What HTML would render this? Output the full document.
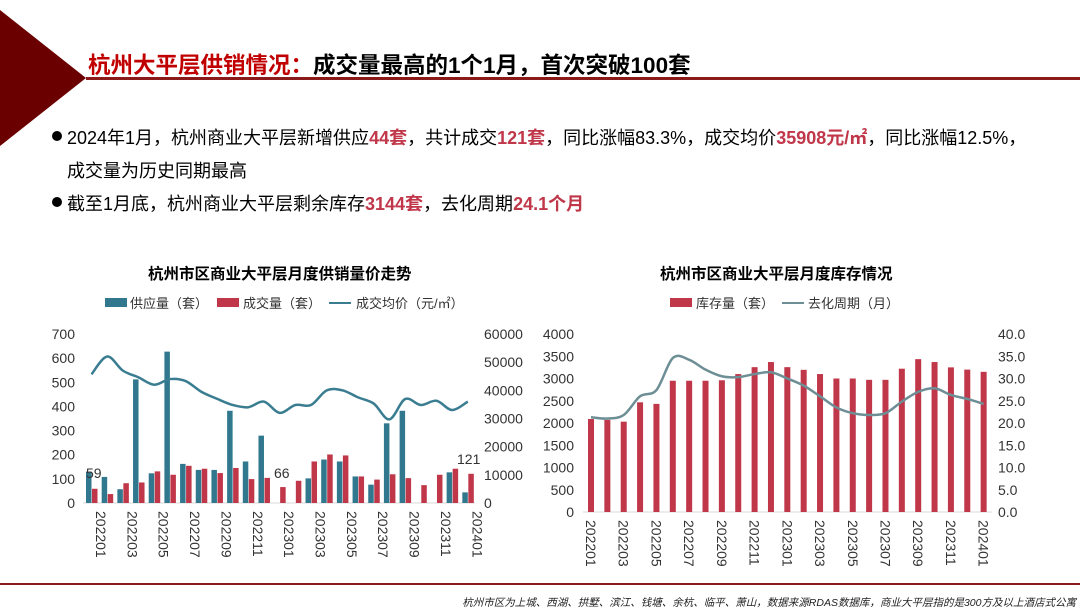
<!DOCTYPE html>
<html><head><meta charset="utf-8"><style>
body{margin:0;width:1080px;height:607px;overflow:hidden;background:#fff;font-family:"Liberation Sans","Noto Sans CJK SC",sans-serif;position:relative}
.abs{position:absolute;white-space:nowrap}
.r{color:#C0374A;font-weight:bold}
</style></head><body>
<svg class="abs" style="left:0;top:0" width="1080" height="607">
<polygon points="0,10 86,78 0,146" fill="#6B0000"/>
<rect x="86" y="77" width="994" height="3" fill="#8B1A1A"/>
<rect x="0" y="583" width="1080" height="2" fill="#8B1A1A"/>
<circle cx="57" cy="136" r="5" fill="#000"/>
<circle cx="57" cy="202" r="5" fill="#000"/>
</svg>
<div class="abs" style="left:88px;top:48px;font-size:22.5px;font-weight:bold"><span style="color:#C00000">杭州大平层供销情况：</span>成交量最高的1个1月，首次突破100套</div>
<div class="abs" style="left:67px;top:124px;font-size:18px">2024年1月，杭州商业大平层新增供应<span class="r">44套</span>，共计成交<span class="r">121套</span>，同比涨幅83.3%，成交均价<span class="r">35908元/㎡</span>，同比涨幅12.5%，</div>
<div class="abs" style="left:67px;top:157px;font-size:18px">成交量为历史同期最高</div>
<div class="abs" style="left:67px;top:190px;font-size:18px">截至1月底，杭州商业大平层剩余库存<span class="r">3144套</span>，去化周期<span class="r">24.1个月</span></div>
<div class="abs" style="left:148px;top:262px;font-size:15.5px;font-weight:bold">杭州市区商业大平层月度供销量价走势</div>
<div class="abs" style="left:660px;top:262px;font-size:15.5px;font-weight:bold">杭州市区商业大平层月度库存情况</div>
<div class="abs" style="left:0;top:595px;width:1076px;text-align:right;font-size:10.5px;font-style:italic;color:#222">杭州市区为上城、西湖、拱墅、滨江、钱塘、余杭、临平、萧山，数据来源RDAS数据库，商业大平层指的是300方及以上酒店式公寓</div>
<svg id="c" class="abs" style="left:0;top:0" width="1080" height="607" font-family="Liberation Sans, Noto Sans CJK SC, sans-serif"></svg>
<script>
const sup=[130,108,57,512,123,627,162,137,137,382,172,279,0,0,102,180,172,110,76,330,382,0,0,127,44];
const sal=[59,37,82,85,131,117,154,142,124,145,99,104,66,92,172,201,197,110,97,119,103,74,117,142,121];
const pr=[45.7,52,47,44.6,42,44,43.3,39.5,37,34.8,34,36,32,34.8,34.8,40,40,37.5,35.3,29.7,36.9,34.8,36.3,33,36];
const inv=[2090,2070,2030,2465,2430,2950,2950,2950,2960,3100,3255,3370,3255,3195,3100,3000,3000,2970,2970,3220,3435,3370,3250,3200,3150];
const cyc=[21.3,21,21.8,26,27.4,34.6,34.2,32,30.5,30.3,31,31.4,30,28.4,26,23.5,22.2,21.8,22.2,24.8,27,27.8,26.3,25.4,24.3];
const labs=['202201','202203','202205','202207','202209','202211','202301','202303','202305','202307','202309','202311','202401'];
let s='';
function smooth(p){let d='M'+p[0][0]+','+p[0][1];for(let i=0;i<p.length-1;i++){const a=p[i-1]||p[i],b=p[i],c=p[i+1],e=p[i+2]||c;d+=' C'+(b[0]+(c[0]-a[0])/6)+','+(b[1]+(c[1]-a[1])/6)+' '+(c[0]-(e[0]-b[0])/6)+','+(c[1]-(e[1]-b[1])/6)+' '+c[0]+','+c[1];}return d;}
{const x0=83,x1=475,y0=503,H=169,g=(x1-x0)/25;
s+=`<line x1="${x0}" y1="${y0}" x2="${x1}" y2="${y0}" stroke="#d9d9d9"/>`;
for(let i=0;i<=7;i++){const y=y0-H*i/7;s+=`<text x="75" y="${y+5}" font-size="14" text-anchor="end" fill="#333">${i*100}</text>`;}
for(let i=0;i<=6;i++){const y=y0-H*i/6;s+=`<text x="484" y="${y+5}" font-size="14" fill="#333">${i*10000}</text>`;}
const pts=[];
for(let i=0;i<25;i++){const bx=x0+3+i*g;
if(sup[i])s+=`<rect x="${bx}" y="${y0-sup[i]*H/700}" width="5.5" height="${sup[i]*H/700}" fill="#31788F"/>`;
s+=`<rect x="${bx+6}" y="${y0-sal[i]*H/700}" width="5.5" height="${sal[i]*H/700}" fill="#C0374A"/>`;
pts.push([bx+5.5,y0-pr[i]*H/60]);}
s+=`<path d="${smooth(pts)}" fill="none" stroke="#3A7D91" stroke-width="2.5"/>`;
s+=`<text x="86" y="478" font-size="14" fill="#333">59</text><text x="274" y="478" font-size="14" fill="#333">66</text><text x="457" y="464" font-size="14" fill="#333">121</text>`;
labs.forEach((l,k)=>{const x=x0+3+k*2*g+5;s+=`<text transform="translate(${x+5},${y0+8}) rotate(90)" font-size="14" fill="#333">${l}</text>`;});
s+=`<rect x="105" y="298" width="22" height="9" fill="#31788F"/><text x="130" y="308" font-size="13" fill="#333">供应量（套）</text>`;
s+=`<rect x="217" y="298" width="22" height="9" fill="#C0374A"/><text x="243" y="308" font-size="13" fill="#333">成交量（套）</text>`;
s+=`<line x1="329" y1="303" x2="351" y2="303" stroke="#3A7D91" stroke-width="2"/><text x="356" y="308" font-size="13" fill="#333">成交均价（元/㎡）</text>`;}
{const x0=583,x1=992,y0=512,H=178,g=(x1-x0)/25;
s+=`<line x1="${x0}" y1="${y0}" x2="${x1}" y2="${y0}" stroke="#d9d9d9"/>`;
for(let i=0;i<=8;i++){const y=y0-H*i/8;s+=`<text x="574" y="${y+5}" font-size="14" text-anchor="end" fill="#333">${i*500}</text>`;
s+=`<text x="998" y="${y+5}" font-size="14" fill="#333">${(i*5).toFixed(1)}</text>`;}
const pts=[];
for(let i=0;i<25;i++){const bx=x0+5+i*g;s+=`<rect x="${bx}" y="${y0-inv[i]*H/4000}" width="6" height="${inv[i]*H/4000}" fill="#C0374A"/>`;pts.push([bx+3,y0-cyc[i]*H/40]);}
s+=`<path d="${smooth(pts)}" fill="none" stroke="#6E8E95" stroke-width="2.5"/>`;
labs.forEach((l,k)=>{const x=x0+5+k*2*g+3;s+=`<text transform="translate(${x-5},${y0+8}) rotate(90)" font-size="14" fill="#333">${l}</text>`;});
s+=`<rect x="670" y="298" width="22" height="9" fill="#C0374A"/><text x="696" y="308" font-size="13" fill="#333">库存量（套）</text>`;
s+=`<line x1="782" y1="303" x2="804" y2="303" stroke="#6E8E95" stroke-width="2"/><text x="808" y="308" font-size="13" fill="#333">去化周期（月）</text>`;}
document.getElementById('c').innerHTML=s;
</script>
</body></html>
